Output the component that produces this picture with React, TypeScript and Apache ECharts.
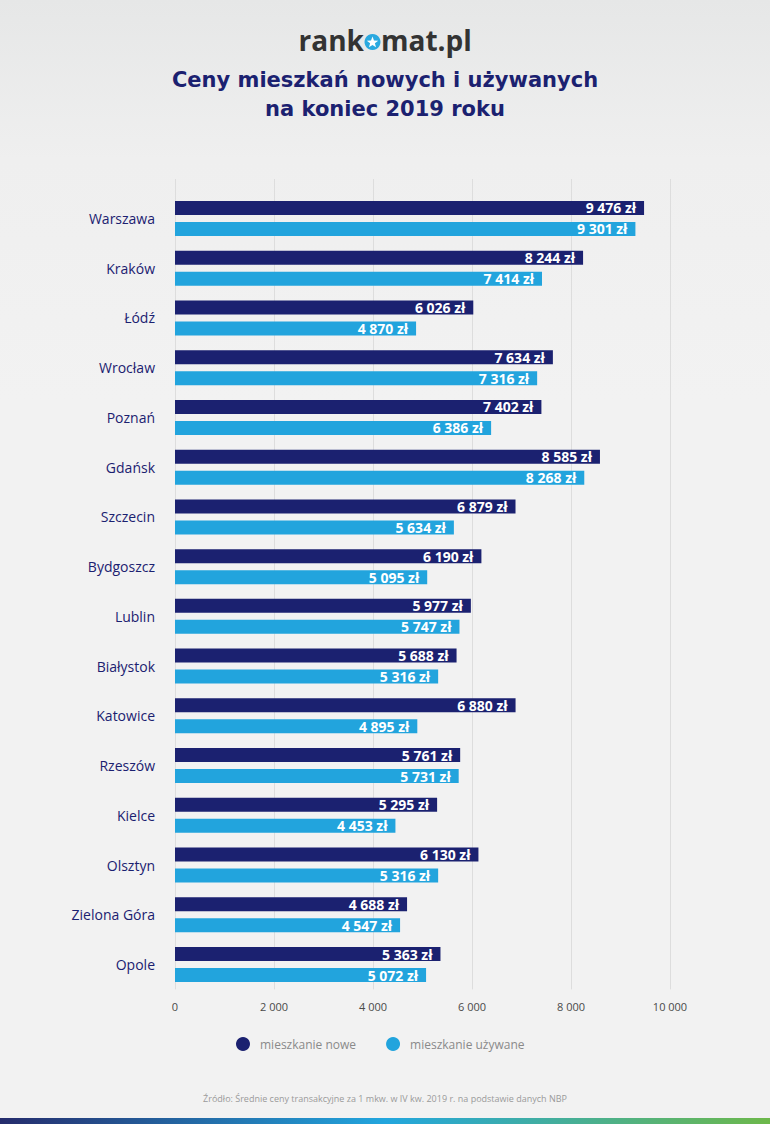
import React, { useEffect, useRef } from "react";
import * as echarts from "echarts";

const cities = [
  "Warszawa", "Kraków", "Łódź", "Wrocław", "Poznań", "Gdańsk", "Szczecin", "Bydgoszcz",
  "Lublin", "Białystok", "Katowice", "Rzeszów", "Kielce", "Olsztyn", "Zielona Góra", "Opole",
];
const newPrices = [9476, 8244, 6026, 7634, 7402, 8585, 6879, 6190, 5977, 5688, 6880, 5761, 5295, 6130, 4688, 5363];
const usedPrices = [9301, 7414, 4870, 7316, 6386, 8268, 5634, 5095, 5747, 5316, 4895, 5731, 4453, 5316, 4547, 5072];
const seriesNames = ["mieszkanie nowe", "mieszkanie używane"];
const xMin = 0;
const xMax = 10000;
const xInterval = 2000;

const NAVY = "#1b2170";
const BLUE = "#22a4dd";
const FONT = "'Open Sans', 'Noto Sans', sans-serif";
const TITLE_FONT = "'DejaVu Sans', 'Open Sans', sans-serif";

const fmt = (v: number) => String(v).replace(/\B(?=(\d{3})+(?!\d))/g, " ");

function starPoints(cx: number, cy: number, ro: number, ri: number) {
  const pts: number[][] = [];
  for (let i = 0; i < 10; i++) {
    const r = i % 2 === 0 ? ro : ri;
    const a = -Math.PI / 2 + (i * Math.PI) / 5;
    pts.push([cx + r * Math.cos(a), cy + r * Math.sin(a)]);
  }
  return pts;
}

export default function App() {
  const ref = useRef<HTMLDivElement>(null);
  useEffect(() => {
    if (!ref.current) return;
    const chart = echarts.init(ref.current, undefined, { renderer: "svg" });
    const labelCfg = {
      show: true,
      position: "insideRight",
      distance: 8,
      color: "#ffffff",
      fontFamily: FONT,
      fontWeight: "bold",
      fontSize: 14,
      formatter: (p: any) => fmt(p.value) + " zł",
    };
    chart.setOption({
      animation: false,
      backgroundColor: "transparent",
      textStyle: { fontFamily: FONT },
      grid: [
        { left: 175, width: 495, top: 193.6, height: 795.8 },
        { left: 175, width: 495, top: 179, height: 810.4 },
      ],
      xAxis: [
        {
          gridIndex: 0,
          type: "value",
          min: xMin,
          max: xMax,
          interval: xInterval,
          axisLine: { show: false },
          axisTick: { show: false },
          splitLine: { show: false },
          axisLabel: {
            color: "#4a4a4a",
            fontSize: 11,
            margin: 12,
            fontFamily: FONT,
            formatter: (v: number) => fmt(v),
          },
        },
        {
          gridIndex: 1,
          type: "value",
          min: xMin,
          max: xMax,
          interval: xInterval,
          axisLine: { show: false },
          axisTick: { show: false },
          axisLabel: { show: false },
          splitLine: { show: true, lineStyle: { color: "#dddddd", width: 1 } },
        },
      ],
      yAxis: [
        {
          gridIndex: 0,
          type: "category",
          inverse: true,
          data: cities,
          axisLine: { show: false },
          axisTick: { show: false },
          axisLabel: {
            margin: 20,
            color: NAVY,
            fontSize: 14,
            fontWeight: 500,
            fontFamily: FONT,
          },
        },
        { gridIndex: 1, type: "category", data: [""], show: false },
      ],
      legend: {
        left: 231,
        top: 1032,
        icon: "circle",
        itemWidth: 14,
        itemHeight: 14,
        itemGap: 30,
        data: seriesNames,
        textStyle: { color: "#8a8a8a", fontSize: 12, fontFamily: FONT, padding: [0, 0, 0, 5] },
      },
      series: [
        {
          name: seriesNames[0],
          type: "bar",
          xAxisIndex: 0,
          yAxisIndex: 0,
          data: newPrices,
          barWidth: 14,
          barGap: "50%",
          itemStyle: { color: NAVY },
          label: labelCfg,
        },
        {
          name: seriesNames[1],
          type: "bar",
          xAxisIndex: 0,
          yAxisIndex: 0,
          data: usedPrices,
          barWidth: 14,
          barGap: "50%",
          itemStyle: { color: BLUE },
          label: labelCfg,
        },
      ],
      graphic: [
        {
          type: "text",
          x: 364,
          y: 40,
          style: { text: "rank", fill: "#333333", font: `bold 28px ${FONT}`, textAlign: "right", textVerticalAlign: "middle" },
        },
        { type: "circle", shape: { cx: 372.5, cy: 42, r: 8 }, style: { fill: "#2aa9e0" } },
        { type: "polygon", shape: { points: starPoints(372.5, 42.5, 6, 2.5) }, style: { fill: "#ffffff" } },
        {
          type: "text",
          x: 381,
          y: 40,
          style: { text: "mat.pl", fill: "#333333", font: `bold 28px ${FONT}`, textAlign: "left", textVerticalAlign: "middle" },
        },
        {
          type: "text",
          x: 385,
          y: 80,
          style: {
            text: "Ceny mieszkań nowych i używanych",
            fill: NAVY,
            font: `bold 21px ${TITLE_FONT}`,
            textAlign: "center",
            textVerticalAlign: "middle",
          },
        },
        {
          type: "text",
          x: 385,
          y: 109,
          style: {
            text: "na koniec 2019 roku",
            fill: NAVY,
            font: `bold 21px ${TITLE_FONT}`,
            textAlign: "center",
            textVerticalAlign: "middle",
          },
        },
        {
          type: "text",
          x: 385,
          y: 1098,
          style: {
            text: "Źródło: Średnie ceny transakcyjne za 1 mkw. w IV kw. 2019 r. na podstawie danych NBP",
            fill: "#9a9a9a",
            font: `9px ${FONT}`,
            textAlign: "center",
            textVerticalAlign: "middle",
          },
        },
        {
          type: "rect",
          shape: { x: 0, y: 1118, width: 770, height: 6 },
          style: {
            fill: new echarts.graphic.LinearGradient(0, 0, 1, 0, [
              { offset: 0, color: "#252c6c" },
              { offset: 0.5, color: "#22a6de" },
              { offset: 1, color: "#6db84a" },
            ]),
          },
        },
      ],
    });
    return () => chart.dispose();
  }, []);
  return (
    <div
      ref={ref}
      style={{
        position: "absolute",
        left: 0,
        top: 0,
        width: 770,
        height: 1124,
        background: "linear-gradient(180deg, #e6e7e7 0px, #efefef 160px, #f2f2f2 400px, #f2f2f2 100%)",
      }}
    />
  );
}
